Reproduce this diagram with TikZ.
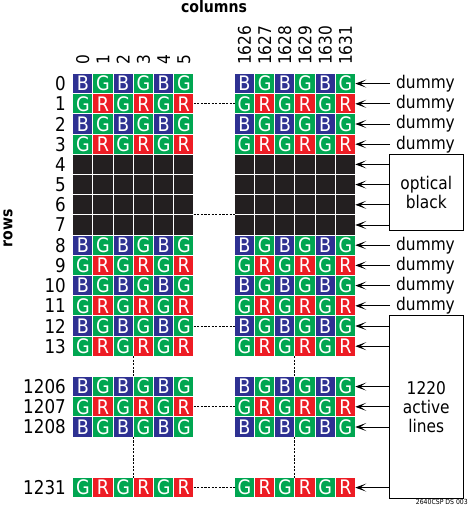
\documentclass[tikz,border=0pt]{standalone}
\usepackage{fontspec}
\setmainfont{DejaVu Sans}[FakeStretch=0.88]
\usetikzlibrary{arrows.meta,positioning,calc}
\definecolor{clrB}{RGB}{46,49,146}
\definecolor{clrG}{RGB}{0,166,81}
\definecolor{clrR}{RGB}{237,28,36}
\definecolor{clrK}{RGB}{35,31,32}
\begin{document}
\begin{tikzpicture}[x=1pt,y=-1pt,
  pix/.style={minimum width=19.2pt,minimum height=19.2pt,inner sep=0pt,text=white,font=\fontsize{20}{20}\selectfont},
  rowlbl/.style={anchor=east,inner sep=0pt,font=\fontsize{19}{19}\selectfont},
  collbl/.style={anchor=west,rotate=90,inner sep=0pt,font=\fontsize{17.5}{17.5}\selectfont},
  side/.style={anchor=west,inner xsep=6pt,inner ysep=0pt,font=\fontsize{17.5}{17.5}\selectfont},
  sidebox/.style={draw,line width=0.8pt,minimum width=74pt,align=center,inner sep=0pt,font=\fontsize{17.5}{19}\selectfont},
  arr/.style={-{Stealth[length=11pt,width=8pt,inset=6pt]},line width=0.8pt},
  gap/.style={dash pattern=on 2.2pt off 1.4pt,line width=0.7pt}]
  \def\pitch{20.2} \def\xo{82.85} \def\yo{83.6}
  \useasboundingbox (0,0) rectangle (469,505);

  \node[font=\bfseries\fontsize{16}{16}\selectfont] (colttl) at (214,7) {columns};
  \node[font=\bfseries\fontsize{16}{16}\selectfont,rotate=90] (rowttl) at (8,228) {rows};

  % --- column numbers ---
  \foreach \c/\col in {0/0,1/1,2/2,3/3,4/4,5/5,8/1626,9/1627,10/1628,11/1629,12/1630,13/1631}{
    \node[collbl] (h-\col) at ({\xo+\pitch*\c},65) {\col};
  }

  % --- bayer rows ---
  \foreach \r/\lab in {0/0,1/1,2/2,3/3,8/8,9/9,10/10,11/11,12/12,13/13,15/1206,16/1207,17/1208,20/1231}{
    \node[rowlbl] (r-\lab) at (66,{\yo+\pitch*\r}) {\lab};
    \foreach \c/\col in {0/0,1/1,2/2,3/3,4/4,5/5,8/1626,9/1627,10/1628,11/1629,12/1630,13/1631}{
      \pgfmathtruncatemacro\kind{2*mod(\lab,2)+mod(\c,2)}
      \ifcase\kind \def\clr{clrB}\def\ltr{B}%
      \or \def\clr{clrG}\def\ltr{G}%
      \or \def\clr{clrG}\def\ltr{G}%
      \or \def\clr{clrR}\def\ltr{R}\fi
      \node[pix,fill=\clr] (c-\lab-\col) at ({\xo+\pitch*\c},{\yo+\pitch*\r}) {\ltr};
    }
  }

  % --- optical black rows ---
  \foreach \r in {4,5,6,7}{
    \node[rowlbl] (r-\r) at (66,{\yo+\pitch*\r}) {\r};
    \foreach \c/\col in {0/0,1/1,2/2,3/3,4/4,5/5,8/1626,9/1627,10/1628,11/1629,12/1630,13/1631}{
      \node[pix,fill=clrK] (c-\r-\col) at ({\xo+\pitch*\c},{\yo+\pitch*\r}) {};
    }
  }

  % --- skipped columns and rows ---
  \draw[gap] (c-1-5.east) -- (c-1-1626.west);
  \draw[gap] (c-6-5.south east) -- (c-6-1626.south west);
  \draw[gap] (c-12-5.east) -- (c-12-1626.west);
  \draw[gap] (c-1207-5.east) -- (c-1207-1626.west);
  \draw[gap] (c-1231-5.east) -- (c-1231-1626.west);
  \draw[gap] (c-13-2.south east) -- (c-1206-2.north east);
  \draw[gap] (c-1208-2.south east) -- (c-1231-2.north east);
  \draw[gap] (c-13-1628.south east) -- (c-1206-1628.north east);
  \draw[gap] (c-1208-1628.south east) -- (c-1231-1628.north east);

  % --- dummy lines ---
  \foreach \lab in {0,1,2,3,8,9,10,11}{
    \node[side] (d-\lab) at (390,{\yo+\pitch*(\lab)}) {dummy};
    \draw[arr] (d-\lab.west) -- (c-\lab-1631.east);
  }

  % --- boxes ---
  \node[sidebox,minimum height=76.7pt] (optblk) at (426.3,192.3) {optical\\black};
  \foreach \lab in {4,5,6,7}{
    \draw[arr] (optblk.west |- c-\lab-1631.east) -- (c-\lab-1631.east);
  }
  \node[sidebox,minimum height=182.6pt] (active) at (426.3,407) {1220\\active\\lines};
  \foreach \lab in {12,13,1206,1207,1208,1231}{
    \draw[arr] (active.west |- c-\lab-1631.east) -- (c-\lab-1631.east);
  }

  \node[anchor=east,inner sep=0pt,font=\fontsize{7}{7}\selectfont] (docid) at (468,502) {2640CSP DS 003};
\end{tikzpicture}
\end{document}
